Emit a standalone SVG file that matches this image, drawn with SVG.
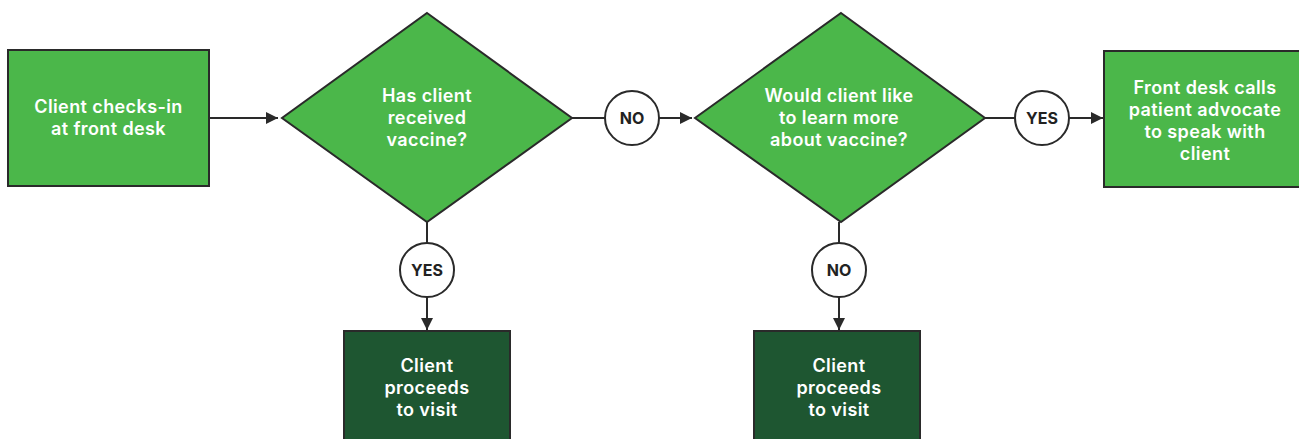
<svg xmlns="http://www.w3.org/2000/svg" width="1299" height="439" viewBox="0 0 1299 439">
<style>
.box{fill:#4bb74a;stroke:#2a2a2a;stroke-width:2}
.dark{fill:#1e5631;stroke:#2a2a2a;stroke-width:2}
.lbl{fill:#fff;stroke:#2a2a2a;stroke-width:2}
.t{font-family:Inter,"Open Sans","Liberation Sans",sans-serif;font-weight:600;font-size:18px;letter-spacing:0.4px;fill:#fff;text-anchor:middle}
.c{font-family:Inter,"Open Sans","Liberation Sans",sans-serif;font-weight:700;font-size:16px;fill:#222;text-anchor:middle}
.ln{stroke:#2a2a2a;stroke-width:2;fill:none}
</style>
<defs>
<marker id="ah" viewBox="0 0 10 10" refX="10" refY="5" markerWidth="12" markerHeight="12" markerUnits="userSpaceOnUse" orient="auto">
<path d="M0,0 L10,5 L0,10 z" fill="#2a2a2a"/>
</marker>
</defs>
<rect width="1299" height="439" fill="#fff"/>
<g id="connectors">
<line class="ln" x1="209" y1="118" x2="278" y2="118" marker-end="url(#ah)"/>
<line class="ln" x1="572" y1="118" x2="605" y2="118"/>
<line class="ln" x1="659" y1="118" x2="692" y2="118" marker-end="url(#ah)"/>
<line class="ln" x1="985" y1="118" x2="1015" y2="118"/>
<line class="ln" x1="1069" y1="118" x2="1103" y2="118" marker-end="url(#ah)"/>
<line class="ln" x1="427" y1="222" x2="427" y2="243"/>
<line class="ln" x1="427" y1="297" x2="427" y2="330" marker-end="url(#ah)"/>
<line class="ln" x1="839" y1="222" x2="839" y2="243"/>
<line class="ln" x1="839" y1="297" x2="839" y2="330" marker-end="url(#ah)"/>
</g>
<g id="n1">
<rect class="box" x="8" y="50" width="201" height="136"/>
<text class="t" x="108.5" y="113">Client checks-in</text>
<text class="t" x="108.5" y="135">at front desk</text>
</g>
<g id="d1">
<polygon class="box" points="427,13 572,118 427,222 282,118"/>
<text class="t" x="427" y="102">Has client</text>
<text class="t" x="427" y="124">received</text>
<text class="t" x="427" y="146">vaccine?</text>
</g>
<g id="l-no1">
<circle class="lbl" cx="632" cy="118" r="27"/>
<text class="c" x="632" y="124">NO</text>
</g>
<g id="d2">
<polygon class="box" points="841,13 985,118 841,222 695,118"/>
<text class="t" x="839" y="102">Would client like</text>
<text class="t" x="839" y="124">to learn more</text>
<text class="t" x="839" y="146">about vaccine?</text>
</g>
<g id="l-yes2">
<circle class="lbl" cx="1042" cy="118" r="27"/>
<text class="c" x="1042" y="124">YES</text>
</g>
<g id="n2">
<rect class="box" x="1104" y="51" width="200" height="136"/>
<text class="t" x="1205" y="94">Front desk calls</text>
<text class="t" x="1205" y="116">patient advocate</text>
<text class="t" x="1205" y="138">to speak with</text>
<text class="t" x="1205" y="160">client</text>
</g>
<g id="l-yes1">
<circle class="lbl" cx="427" cy="270" r="27"/>
<text class="c" x="427" y="276">YES</text>
</g>
<g id="n3">
<rect class="dark" x="344" y="331" width="166" height="120"/>
<text class="t" x="427" y="372">Client</text>
<text class="t" x="427" y="394">proceeds</text>
<text class="t" x="427" y="416">to visit</text>
</g>
<g id="l-no2">
<circle class="lbl" cx="839" cy="270" r="27"/>
<text class="c" x="839" y="276">NO</text>
</g>
<g id="n4">
<rect class="dark" x="754" y="331" width="166" height="120"/>
<text class="t" x="839" y="372">Client</text>
<text class="t" x="839" y="394">proceeds</text>
<text class="t" x="839" y="416">to visit</text>
</g>
</svg>
